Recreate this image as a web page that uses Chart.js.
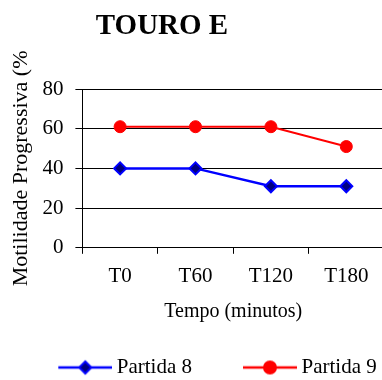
<!DOCTYPE html>
<html>
<head>
<meta charset="utf-8">
<script src="https://cdn.jsdelivr.net/npm/chart.js@4/dist/chart.umd.min.js"></script>
<style>
html, body { margin: 0; padding: 0; overflow: hidden; background: #fff; }
#grafico { display: block; }
</style>
</head>
<body>
<canvas id="grafico" width="384" height="388"></canvas>
<script>
var titulo = "TOURO E";
var categorias = ["T0", "T60", "T120", "T180"];
var nomesSeries = ["Partida 8", "Partida 9"];
var partida8 = [40, 40, 31, 31];
var partida9 = [61, 61, 61, 51];
var ticksY = [0, 20, 40, 60, 80];
var tituloY = "Motilidade Progressiva (%";
var tituloX = "Tempo (minutos)";

Chart.defaults.font.family = '"Liberation Serif", "Times New Roman", serif';
Chart.defaults.color = "#000";

// icone da legenda: linha com o marcador no meio
function iconeLegenda(corLinha, corFundo, estilo) {
    var c = document.createElement("canvas");
    c.width = 111;
    c.height = 18;
    var g = c.getContext("2d");
    g.strokeStyle = corLinha;
    g.lineWidth = 2.5;
    g.beginPath();
    g.moveTo(57, 9);
    g.lineTo(111, 9);
    g.stroke();
    g.beginPath();
    if (estilo === "rectRot") {
        g.moveTo(78, 9); g.lineTo(84, 3); g.lineTo(90, 9); g.lineTo(84, 15);
    } else {
        g.arc(84, 9, 6, 0, Math.PI * 2);
    }
    g.closePath();
    g.fillStyle = corFundo;
    g.fill();
    g.lineWidth = 2;
    g.stroke();
    return c;
}

var icones = [
    iconeLegenda("#0000ff", "#000080", "rectRot"),
    iconeLegenda("#ff0000", "#ff0000", "circle")
];

var tituloPlugin = {
    id: "tituloTouro",
    afterDraw: function (chart) {
        var ctx = chart.ctx;
        ctx.save();
        ctx.font = 'bold 29px "Liberation Serif"';
        ctx.fillStyle = "#000";
        ctx.textAlign = "center";
        ctx.textBaseline = "alphabetic";
        ctx.fillText(titulo, 162, 34);
        ctx.restore();
    }
};

new Chart(document.getElementById("grafico"), {
    type: "line",
    data: {
        labels: categorias,
        datasets: [{
            label: nomesSeries[0],
            data: partida8,
            borderColor: "#0000ff",
            backgroundColor: "#000080",
            borderWidth: 2.5,
            pointStyle: "rectRot",
            pointRadius: 6,
            pointBorderWidth: 2,
            pointBorderColor: "#0000ff",
            pointBackgroundColor: "#000080",
            tension: 0
        }, {
            label: nomesSeries[1],
            data: partida9,
            borderColor: "#ff0000",
            backgroundColor: "#ff0000",
            borderWidth: 2,
            pointStyle: "circle",
            pointRadius: 6,
            pointBorderWidth: 1,
            pointBorderColor: "#ff0000",
            pointBackgroundColor: "#ff0000",
            tension: 0
        }]
    },
    options: {
        responsive: false,
        animation: false,
        layout: { autoPadding: false, padding: { top: 89, left: 0, right: 0, bottom: 0 } },
        plugins: {
            title: { display: false },
            tooltip: { enabled: false },
            legend: {
                position: "bottom",
                labels: {
                    usePointStyle: true,
                    pointStyleWidth: 99,
                    padding: 0,
                    font: { size: 21 },
                    generateLabels: function (chart) {
                        var itens = Chart.defaults.plugins.legend.labels.generateLabels(chart);
                        itens.forEach(function (it, i) { it.pointStyle = icones[i]; });
                        return itens;
                    }
                }
            }
        },
        scales: {
            x: {
                offset: true,
                grid: {
                    offset: true,
                    drawOnChartArea: false,
                    drawTicks: true,
                    tickLength: 6,
                    color: "#000"
                },
                border: { display: true, color: "#000", width: 1 },
                ticks: { font: { size: 21 }, padding: 10, maxRotation: 0 },
                title: {
                    display: true,
                    text: tituloX,
                    font: { size: 20 },
                    padding: { top: 1, bottom: 33 }
                }
            },
            y: {
                min: ticksY[0],
                max: ticksY[ticksY.length - 1],
                grid: { color: "#000", tickLength: 7 },
                border: { display: true, color: "#000", width: 1 },
                ticks: {
                    stepSize: ticksY[1] - ticksY[0],
                    font: { size: 21 },
                    padding: 12
                },
                title: {
                    display: true,
                    text: tituloY,
                    font: { size: 22 },
                    padding: { top: 8, bottom: -4 }
                }
            }
        }
    },
    plugins: [tituloPlugin]
});
</script>
</body>
</html>
